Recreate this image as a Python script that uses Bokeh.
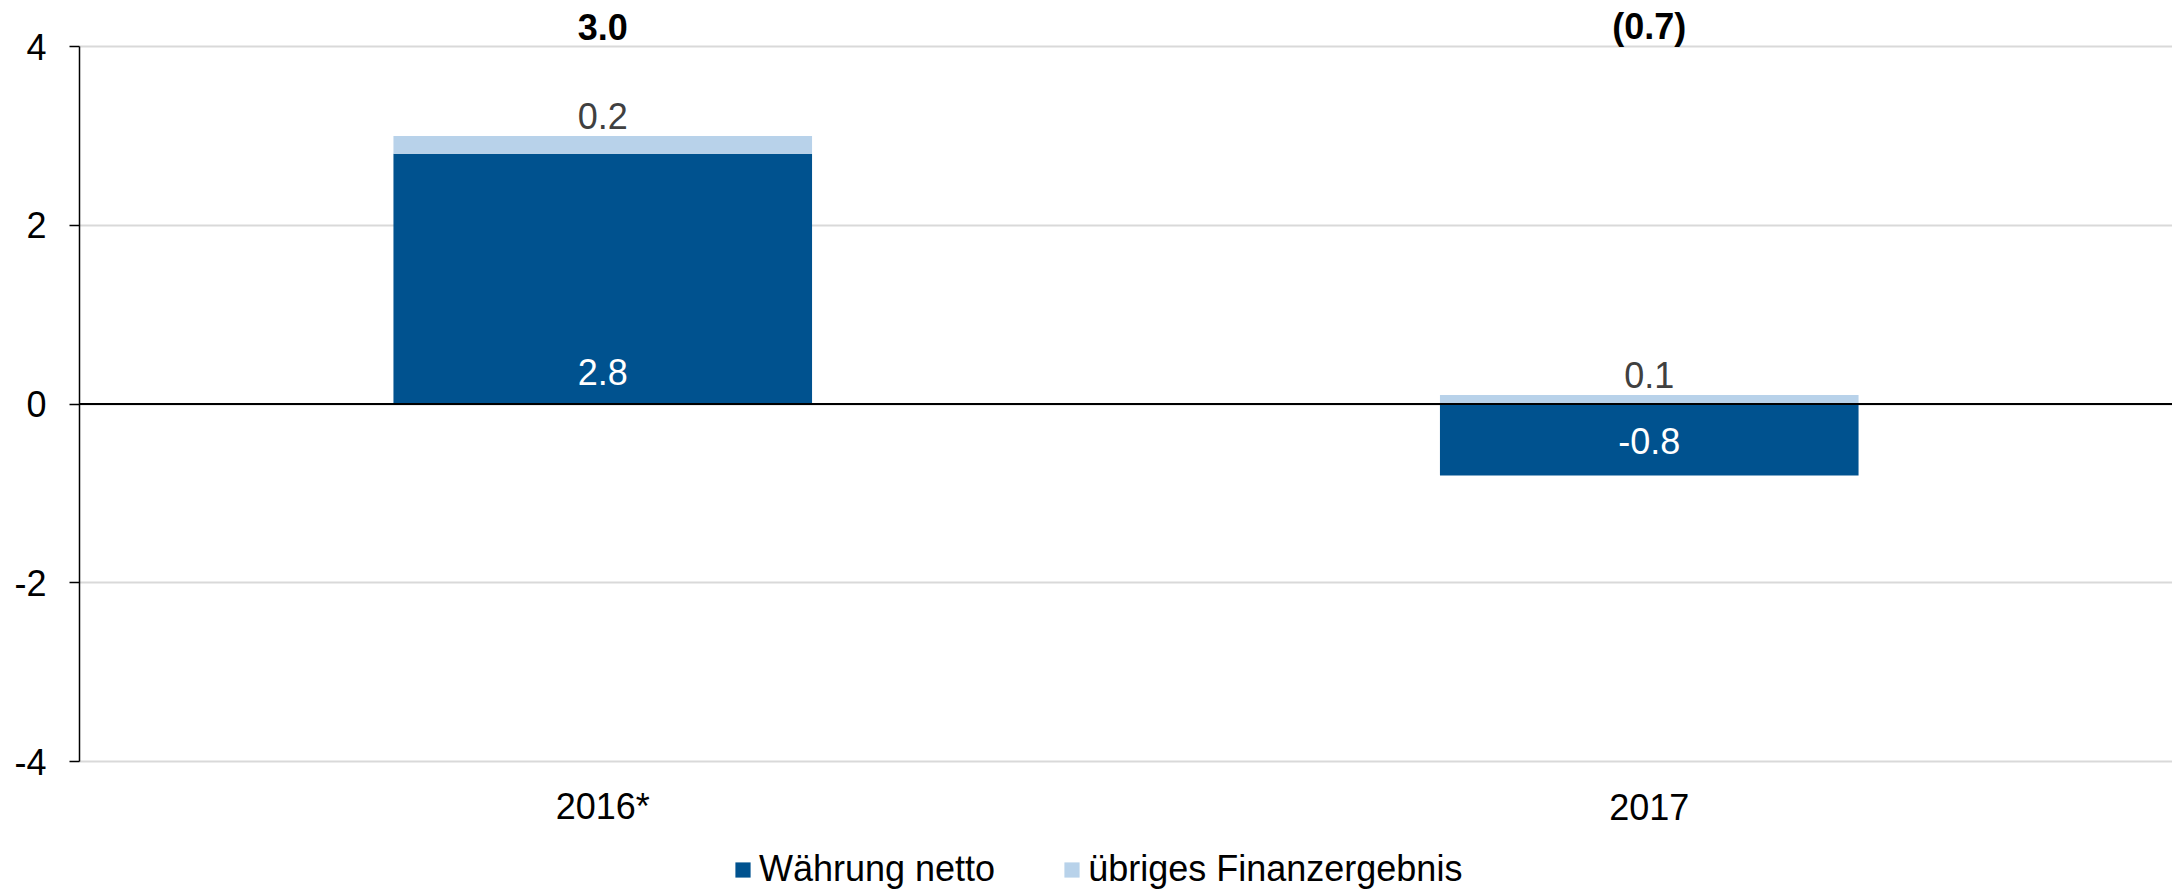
import numpy as np
from bokeh.plotting import figure
from bokeh.models import (ColumnDataSource, FactorRange, Range1d, FixedTicker, Span,
                          Legend, LegendItem, LabelSet)
from bokeh.core.properties import value
from bokeh.embed import file_html
from bokeh.resources import INLINE

# ---- data ----
categories = ["2016*", "2017"]
waehrung_netto = [2.8, -0.8]
uebriges_finanzergebnis = [0.2, 0.1]
series_names = ["Währung netto", "übriges Finanzergebnis"]
y_ticks = [-4, -2, 0, 2, 4]

# ---- style / layout ----
DARK = "#00528F"
LIGHT = "#B8D2EA"
FONT = "Liberation Sans"
FS = "36px"
W, H = 2172, 890
LEFT = 79
Y_TOP_PX, Y_BOT_PX = 46, 761          # pixel rows of the axis ends (4 and -4)
ax_lo, ax_hi = min(y_ticks), max(y_ticks)
ppu = (Y_BOT_PX - Y_TOP_PX) / (ax_hi - ax_lo)
y_start = ax_lo - (H - Y_BOT_PX) / ppu
y_end = ax_hi + Y_TOP_PX / ppu

p = figure(x_range=FactorRange(factors=categories, range_padding=0),
           y_range=Range1d(y_start, y_end),
           width=W, height=H, output_backend="svg", toolbar_location=None,
           min_border_left=LEFT, min_border_right=0, min_border_top=0, min_border_bottom=0)
p.outline_line_color = None

# stacking: positives and negatives separately
vals = np.array([waehrung_netto, uebriges_finanzergebnis], dtype=float)
n = len(categories)
pos_base = np.zeros(n)
neg_base = np.zeros(n)
bottoms, tops = [], []
for row in vals:
    b = np.where(row >= 0, pos_base, neg_base)
    t = b + row
    pos_base = np.where(row >= 0, t, pos_base)
    neg_base = np.where(row < 0, t, neg_base)
    bottoms.append(b)
    tops.append(t)

# grid (only at ticks, full width)
p.xgrid.visible = False
p.ygrid.ticker = FixedTicker(ticks=y_ticks)
p.ygrid.grid_line_color = "#D9D9D9"
p.ygrid.grid_line_width = 2

colors = [DARK, LIGHT]
renderers = []
for i in range(len(vals)):
    src = ColumnDataSource(dict(x=categories, bottom=bottoms[i], top=tops[i]))
    r = p.vbar(x="x", bottom="bottom", top="top", width=0.4, source=src,
               fill_color=colors[i], line_color=None)
    renderers.append(r)

# zero line
p.add_layout(Span(location=0, dimension="width", line_color="black", line_width=2))

# labels for Währung netto (inside base)
lab1 = ColumnDataSource(dict(
    x=categories, y=bottoms[0],
    text=[f"{v:.1f}" for v in waehrung_netto],
    yoff=[32 if v >= 0 else -37 for v in waehrung_netto]))
p.add_layout(LabelSet(x="x", y="y", text="text", source=lab1, y_offset="yoff",
                      text_align="center", text_baseline="middle",
                      text_color="white", text_font=value(FONT), text_font_size=FS))

# labels for übriges Finanzergebnis (outside end)
lab2 = ColumnDataSource(dict(
    x=categories, y=tops[1],
    text=[f"{v:.1f}" for v in uebriges_finanzergebnis]))
p.add_layout(LabelSet(x="x", y="y", text="text", source=lab2, y_offset=7,
                      text_align="center", text_baseline="bottom",
                      text_color="#404040", text_font=value(FONT), text_font_size=FS))

# totals above the axis top
totals = vals.sum(axis=0)
tot_text = [f"{t:.1f}" if t >= 0 else f"({abs(t):.1f})" for t in totals]
lab3 = ColumnDataSource(dict(x=categories, y=[ax_hi] * n, text=tot_text))
p.add_layout(LabelSet(x="x", y="y", text="text", source=lab3, y_offset=20,
                      text_align="center", text_baseline="middle",
                      text_color="black", text_font=value(FONT), text_font_size=FS,
                      text_font_style="bold"))

# category labels below the axis bottom
lab4 = ColumnDataSource(dict(x=categories, y=[ax_lo] * n, text=categories))
p.add_layout(LabelSet(x="x", y="y", text="text", source=lab4, y_offset=-45,
                      text_align="center", text_baseline="middle",
                      text_color="black", text_font=value(FONT), text_font_size=FS))
p.xaxis.visible = False

# y axis
p.yaxis.ticker = FixedTicker(ticks=y_ticks)
p.yaxis.bounds = (ax_lo, ax_hi)
p.yaxis.major_label_overrides = {t: str(t) for t in y_ticks}
p.yaxis.axis_line_color = "black"
p.yaxis.axis_line_width = 1.5
p.yaxis.major_tick_line_color = "black"
p.yaxis.major_tick_line_width = 1.5
p.yaxis.major_tick_out = 10
p.yaxis.major_tick_in = 0
p.yaxis.minor_tick_line_color = None
p.yaxis.major_label_text_font = FONT
p.yaxis.major_label_text_font_size = FS
p.yaxis.major_label_text_color = "black"
p.yaxis.major_label_standoff = 23

legend = Legend(items=[LegendItem(label=series_names[i], renderers=[renderers[i]]) for i in range(len(vals))],
                location=(654, 0), orientation="horizontal",
                label_text_font=FONT, label_text_font_size=FS, label_text_color="black",
                glyph_width=19, glyph_height=19, label_standoff=7, spacing=67,
                padding=0, margin=0, border_line_color=None, background_fill_alpha=0)
p.add_layout(legend, "center")

open("out.html", "w").write(file_html(p, INLINE))
